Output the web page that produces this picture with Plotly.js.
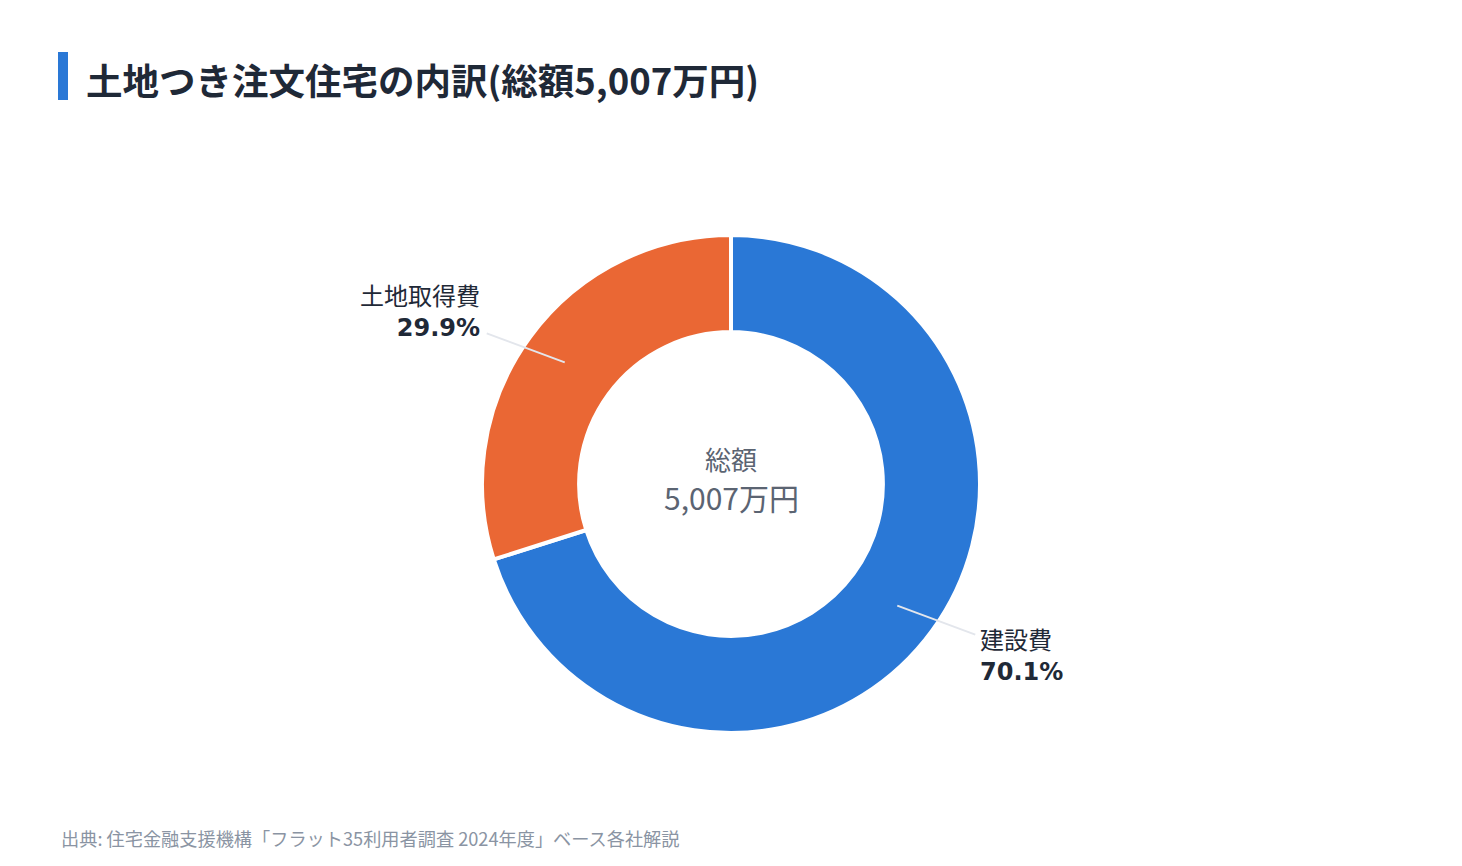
<!DOCTYPE html>
<html>
<head>
<meta charset="utf-8">
<script src="https://cdn.plot.ly/plotly-3.0.1.min.js"></script>
<style>html, body { margin: 0; padding: 0; background: #fff; }</style>
</head>
<body>
<div id="chart" style="width:1462px;height:866px"></div>
<script>
'use strict';

// data (万円)
const categories = ['建設費', '土地取得費'];
const amounts = [3510, 1497];
const sliceColors = ['#2a78d6', '#ea6734'];
const chartTitle = '土地つき注文住宅の内訳(総額5,007万円)';
const centerLabel = '総額';
const sourceNote = '出典: 住宅金融支援機構「フラット35利用者調査 2024年度」ベース各社解説';

const W = 1462;
const H = 866;
const JP = '"Noto Sans CJK JP", "Noto Sans", sans-serif';

const drawChart = function () {
	// pie sits in this domain (paper coords)
	var dom = { x: [482 / W, 980 / W], y: [1 - 733 / H, 1 - 235 / H] };
	var cx = (dom.x[0] + dom.x[1]) / 2 * W;
	var cy = (1 - (dom.y[0] + dom.y[1]) / 2) * H;
	var rIn = 206;
	// leader line length (px, outward)
	var legX = 78;
	var legY = 29;

	var total = amounts.reduce(function (a, b) { return a + b; }, 0);

	var shapes = [
		// blue accent bar next to title
		{
			type: 'rect', xref: 'paper', yref: 'paper',
			x0: 58 / W, x1: 68 / W, y0: 1 - 100 / H, y1: 1 - 52 / H,
			fillcolor: '#2a78d6', line: { width: 0 },
		},
	];
	var annotations = [];

	// leader lines + labels, placed from slice mid angles
	var cum = 0;
	amounts.forEach(function (v, i) {
		var frac = v / total;
		var mid = (cum + frac / 2) * 2 * Math.PI; // clockwise from 12 o'clock
		cum += frac;
		var sx = Math.sin(mid);
		var sy = Math.cos(mid);
		var right = sx > 0;
		var upper = sy > 0;
		var x0 = cx + rIn * sx, y0 = cy - rIn * sy;
		var x1 = x0 + (right ? legX : -legX);
		var y1 = y0 + (upper ? -legY : legY);
		shapes.push({
			type: 'line', xref: 'paper', yref: 'paper',
			x0: x0 / W, y0: 1 - y0 / H, x1: x1 / W, y1: 1 - y1 / H,
			line: { color: '#e3e6ec', width: 2 },
		});
		annotations.push({
			xref: 'paper', yref: 'paper',
			x: x1 / W, y: 1 - y1 / H,
			xanchor: right ? 'left' : 'right',
			yanchor: upper ? 'bottom' : 'top',
			align: right ? 'left' : 'right',
			xshift: right ? 3 : -5,
			yshift: upper ? -11 : 16,
			showarrow: false,
			text: categories[i] + '<br><b><span style="font-family:DejaVu Sans">' +
				(frac * 100).toFixed(1) + '%</span></b>',
			font: { family: JP, size: 24, color: '#1f2937' },
		});
	});

	// centre text
	annotations.push({
		xref: 'paper', yref: 'paper', x: cx / W, y: 1 - 458 / H,
		yanchor: 'middle', showarrow: false, text: centerLabel,
		font: { family: JP, size: 26, color: '#5b6472' },
	});
	annotations.push({
		xref: 'paper', yref: 'paper', x: cx / W, y: 1 - 497 / H,
		yanchor: 'middle', showarrow: false, text: total.toLocaleString('en-US') + '万円',
		font: { family: JP, size: 30, color: '#5b6472' },
	});
	// source
	annotations.push({
		xref: 'paper', yref: 'paper', x: 59 / W, y: 1 - 838 / H,
		xanchor: 'left', yanchor: 'middle', showarrow: false, text: sourceNote,
		font: { family: JP, size: 18.2, color: '#8a94a3' },
	});

	var traces = [
		{
			type: 'pie',
			labels: categories,
			values: amounts,
			hole: 0.61,
			sort: false,
			direction: 'clockwise',
			rotation: 0,
			textinfo: 'none',
			hoverinfo: 'none',
			domain: dom,
			marker: { colors: sliceColors, line: { color: '#ffffff', width: 4 } },
		},
	];

	var layout = {
		width: W,
		height: H,
		margin: { l: 0, r: 0, t: 0, b: 0 },
		showlegend: false,
		paper_bgcolor: '#ffffff',
		title: {
			text: '<b>' + chartTitle + '</b>',
			xref: 'paper', yref: 'paper',
			x: 86 / W, xanchor: 'left',
			y: 1 - 82 / H, yanchor: 'middle',
			font: { family: JP, size: 36.5, color: '#1f2937' },
		},
		shapes: shapes,
		annotations: annotations,
	};

	Plotly.newPlot('chart', traces, layout, { staticPlot: true });
};

document.addEventListener('DOMContentLoaded', drawChart);
</script>
</body>
</html>
